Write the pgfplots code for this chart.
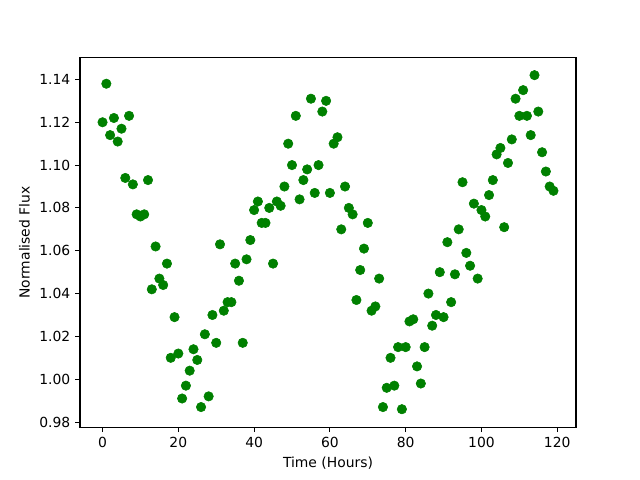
\documentclass[border=0pt]{standalone}
\usepackage{fontspec}
\setmainfont{DejaVu Sans}
\usepackage{pgfplots}
\pgfplotsset{compat=1.18}
\definecolor{mplgreen}{HTML}{008000}

\begin{document}
\begin{tikzpicture}
% figure frame 640x480 px -> 460.8pt x 345.6pt
\path[use as bounding box] (-57.6pt,-38.016pt) rectangle (403.2pt,307.584pt);
\begin{axis}[
  at={(0,0)}, anchor=south west,
  scale only axis,
  width=357.12pt, height=266.112pt,
  xmin=-5.95, xmax=124.95,
  ymin=0.9776, ymax=1.1502,
  xtick={0,20,40,60,80,100,120},
  ytick={0.98,1.00,1.02,1.04,1.06,1.08,1.10,1.12,1.14},
  yticklabel style={/pgf/number format/fixed,/pgf/number format/fixed zerofill,/pgf/number format/precision=2},
  /pgf/number format/assume math mode=true,
  scaled ticks=false,
  tick pos=left,
  tick align=outside,
  major tick length=3.5pt,
  axis line style={line width=0.8pt},
  every tick/.style={line width=0.8pt,black},
  ticklabel style={font=\fontsize{10}{12}\selectfont},
  label style={font=\fontsize{10}{12}\selectfont},
  xlabel={Time (Hours)},
  ylabel={Normalised Flux},
]
\addplot[only marks, mark=*, mark size=3.4pt, color=mplgreen, fill=mplgreen]
  coordinates {
  (0,1.120)(1,1.138)(2,1.114)(3,1.122)(4,1.111)(5,1.117)(6,1.094)(7,1.123)(8,1.091)(9,1.077)
  (10,1.076)(11,1.077)(12,1.093)(13,1.042)(14,1.062)(15,1.047)(16,1.044)(17,1.054)(18,1.010)(19,1.029)
  (20,1.012)(21,0.991)(22,0.997)(23,1.004)(24,1.014)(25,1.009)(26,0.987)(27,1.021)(28,0.992)(29,1.030)
  (30,1.017)(31,1.063)(32,1.032)(33,1.036)(34,1.036)(35,1.054)(36,1.046)(37,1.017)(38,1.056)(39,1.065)
  (40,1.079)(41,1.083)(42,1.073)(43,1.073)(44,1.080)(45,1.054)(46,1.083)(47,1.081)(48,1.090)(49,1.110)
  (50,1.100)(51,1.123)(52,1.084)(53,1.093)(54,1.098)(55,1.131)(56,1.087)(57,1.100)(58,1.125)(59,1.130)
  (60,1.087)(61,1.110)(62,1.113)(63,1.070)(64,1.090)(65,1.080)(66,1.077)(67,1.037)(68,1.051)(69,1.061)
  (70,1.073)(71,1.032)(72,1.034)(73,1.047)(74,0.987)(75,0.996)(76,1.010)(77,0.997)(78,1.015)(79,0.986)
  (80,1.015)(81,1.027)(82,1.028)(83,1.006)(84,0.998)(85,1.015)(86,1.040)(87,1.025)(88,1.030)(89,1.050)
  (90,1.029)(91,1.064)(92,1.036)(93,1.049)(94,1.070)(95,1.092)(96,1.059)(97,1.053)(98,1.082)(99,1.047)
  (100,1.079)(101,1.076)(102,1.086)(103,1.093)(104,1.105)(105,1.108)(106,1.071)(107,1.101)(108,1.112)(109,1.131)
  (110,1.123)(111,1.135)(112,1.123)(113,1.114)(114,1.142)(115,1.125)(116,1.106)(117,1.097)(118,1.090)(119,1.088)
  };
\end{axis}
\end{tikzpicture}
\end{document}
